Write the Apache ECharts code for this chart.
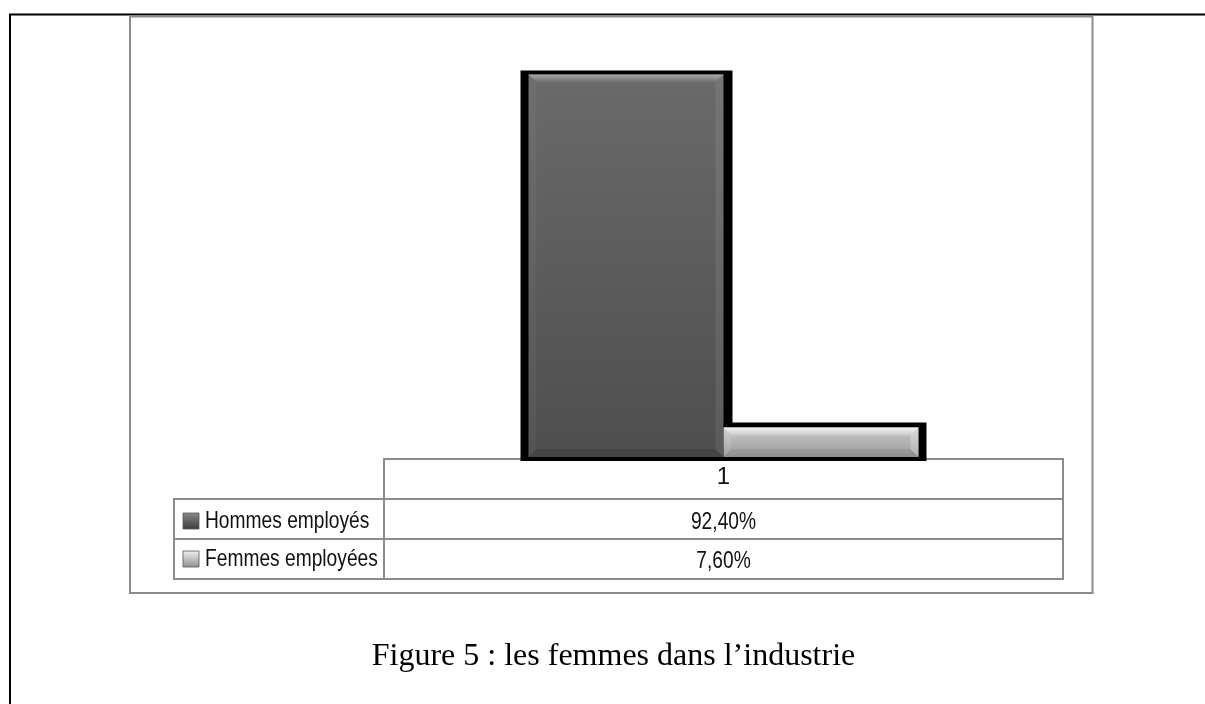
<!DOCTYPE html>
<html><head><meta charset="utf-8">
<style>html,body{margin:0;padding:0;background:#fff}#c{width:1205px;height:704px}</style>
<script src="https://cdn.jsdelivr.net/npm/echarts@6/dist/echarts.min.js"></script>
</head><body><div id="c"></div>
<script>
const categories = ['1'];
const seriesNames = ['Hommes employés', 'Femmes employées'];
const hommesValues = [92.4];
const femmesValues = [7.6];
const caption = 'Figure 5 : les femmes dans l\u2019industrie';

const FONT = '"Liberation Sans", Arial, sans-serif';
const SERIF = '"Liberation Serif", "Times New Roman", serif';
const NARROW = 0.8;
const GRAY = '#8c8c8c';
const GRID = {left: 384, right: 142, top: 43, bottom: 245};
const BAR_FRAC = 195 / 679;

const chart = echarts.init(document.getElementById('c'), null, {renderer: 'canvas'});

function vgrad(c0, c1) {
  return new echarts.graphic.LinearGradient(0, 0, 0, 1, [{offset: 0, color: c0}, {offset: 1, color: c1}]);
}

const palettes = [
  {face: ['#6a6a6a', '#4e4e4e'], top: ['#a8a8a8', '#6c6c6c'], left: 'rgba(255,255,255,0.04)', right: 'rgba(255,255,255,0.08)', bottom: 'rgba(0,0,0,0.10)', legend: ['#8a8a8a', '#3c3c3c']},
  {face: ['#cdcdcd', '#979797'], top: ['#f6f6f6', '#cacaca'], left: 'rgba(255,255,255,0.10)', right: 'rgba(255,255,255,0.25)', bottom: 'rgba(0,0,0,0.06)', legend: ['#f2f2f2', '#8f8f8f']}
];

function makeRender(si) {
  return function (params, api) {
    const ci = api.value(0);
    const val = api.value(1);
    const topPt = api.coord([ci, val]);
    const basePt = api.coord([ci, 0]);
    const band = api.size([1, 0])[0];
    const w = band * BAR_FRAC;
    const x = topPt[0] - w + si * w;
    const t = topPt[1];
    const bot = basePt[1] - 2;
    const p = palettes[si];
    const b = Math.min(8, (bot - t) / 2);
    const padL = si === 0 ? 8 : 0;
    const padR = si === 0 ? 9 : 8;
    const padT = si === 0 ? 4 : 5;
    return {
      type: 'group',
      children: [
        {type: 'rect', shape: {x: x - padL, y: t - padT, width: w + padL + padR, height: basePt[1] + 2 - (t - padT)}, style: {fill: '#000'}},
        {type: 'rect', shape: {x: x, y: t, width: w, height: bot - t}, style: {fill: vgrad(p.face[0], p.face[1])}},
        {type: 'polygon', shape: {points: [[x, t], [x + b, t + b], [x + b, bot - b], [x, bot]]}, style: {fill: p.left}},
        {type: 'polygon', shape: {points: [[x + w, t], [x + w - b, t + b], [x + w - b, bot - b], [x + w, bot]]}, style: {fill: p.right}},
        {type: 'polygon', shape: {points: [[x, bot], [x + b, bot - b], [x + w - b, bot - b], [x + w, bot]]}, style: {fill: p.bottom}},
        {type: 'polygon', shape: {points: [[x, t], [x + w, t], [x + w - b, t + b], [x + b, t + b]]}, style: {fill: vgrad(p.top[0], p.top[1])}}
      ]
    };
  };
}

const valueSets = [hommesValues, femmesValues];
const fmt = v => v.toFixed(2).replace('.', ',') + '%';
const cx = GRID.left + (1205 - GRID.left - GRID.right) / 2;
const rowY = [521, 560];

const line = (x1, y1, x2, y2, color, width) => ({
  type: 'line', silent: true, z: 1,
  shape: {x1, y1, x2, y2},
  style: {stroke: color, lineWidth: width}
});

const graphics = [
  // outer page frame
  line(9, 14.5, 1205, 14.5, '#000', 2),
  line(10, 14, 10, 704, '#000', 2),
  // chart area border
  line(130, 16.5, 1092.5, 16.5, GRAY, 2),
  line(130, 16, 130, 594, GRAY, 2),
  line(1092.5, 16, 1092.5, 594, GRAY, 2),
  line(129, 593, 1093.5, 593, GRAY, 2),
  // data table
  line(174, 499, 1063, 499, GRAY, 2),
  line(174, 539, 1063, 539, GRAY, 2),
  line(173, 579, 1064, 579, GRAY, 2),
  line(174, 498, 174, 580, GRAY, 2),
  line(384, 458, 384, 580, GRAY, 2),
  line(1063, 458, 1063, 580, GRAY, 2),
  // caption
  {type: 'text', x: 613.5, y: 657, silent: true,
   style: {text: caption, font: '32px ' + SERIF, fill: '#000', align: 'center', verticalAlign: 'middle'}}
];
valueSets.forEach((vals, si) => {
  // value cell
  graphics.push({type: 'text', x: cx, y: rowY[si] + 1, scaleX: NARROW, silent: true, z: 1,
    style: {text: fmt(vals[0]), font: '24px ' + FONT, fill: '#111', align: 'center', verticalAlign: 'middle'}});
  // legend key
  graphics.push({type: 'rect', silent: true, z: 1,
    shape: {x: 183, y: rowY[si] - 8 + (si === 0 ? 0 : -1), width: 16, height: 16},
    style: {fill: vgrad(palettes[si].legend[0], palettes[si].legend[1]), stroke: '#555', lineWidth: 0.8}});
  // legend label
  graphics.push({type: 'text', x: 205, y: rowY[si] + (si === 0 ? 0 : -1), scaleX: NARROW, silent: true, z: 1,
    style: {text: seriesNames[si], font: '24px ' + FONT, fill: '#111', align: 'left', verticalAlign: 'middle'}});
});

chart.setOption({
  animation: false,
  backgroundColor: '#fff',
  grid: GRID,
  xAxis: {
    type: 'category', data: categories,
    axisLine: {lineStyle: {color: GRAY, width: 2}},
    axisTick: {show: false},
    axisLabel: {fontSize: 24, fontFamily: FONT, color: '#111', margin: 6}
  },
  yAxis: {type: 'value', min: 0, max: 100, show: false, splitLine: {show: false}},
  graphic: graphics,
  series: [0, 1].map(si => ({
    type: 'custom',
    name: seriesNames[si],
    z: 5,
    renderItem: makeRender(si),
    encode: {x: 0, y: 1},
    data: categories.map((c, i) => [i, valueSets[si][i]])
  }))
});
</script>
</body></html>
